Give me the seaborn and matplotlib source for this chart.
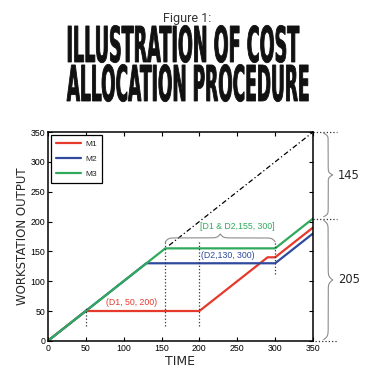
import numpy as np
import pandas as pd
import seaborn as sns
import matplotlib.pyplot as plt
from matplotlib.patheffects import AbstractPathEffect
from matplotlib.transforms import Affine2D

# output of each workstation over time
time_m1 = [0, 50, 200, 290, 300, 350]
out_m1 = [0, 50, 50, 140, 140, 190]
time_m2 = [0, 130, 300, 350]
out_m2 = [0, 130, 130, 180]
time_m3 = [0, 155, 300, 350]
out_m3 = [0, 155, 155, 205]
machines = ["M1", "M2", "M3"]
colors = ["#e5392b", "#2f4a9c", "#30a95c"]

# ideal (no disruption) output line
ideal_time = [160, 350]
ideal_out = [160, 350]

# disruption markers: time, bottom, top of dotted line
event_time = [50, 155, 200, 300]
event_lo = [25, 25, 25, 112]
event_hi = [57, 168, 168, 166]

notes = ["(D1, 50, 200)", "(D2,130, 300)", "[D1 & D2,155, 300]"]
total_out = 350
done_out = 205
lost_out = total_out - done_out

df = pd.concat([
    pd.DataFrame({"time": time_m1, "output": out_m1, "machine": "M1"}),
    pd.DataFrame({"time": time_m2, "output": out_m2, "machine": "M2"}),
    pd.DataFrame({"time": time_m3, "output": out_m3, "machine": "M3"}),
])


class Stretch(AbstractPathEffect):
    """stretch text vertically around baseline cy (pixels) and fatten strokes"""
    def __init__(self, sy, cy, lw=0.0):
        super().__init__()
        self.sy, self.cy, self.lw = sy, cy, lw

    def draw_path(self, renderer, gc, tpath, affine, rgbFace=None):
        tr = affine + Affine2D().translate(0, -self.cy).scale(1, self.sy).translate(0, self.cy)
        gc0 = renderer.new_gc()
        gc0.copy_properties(gc)
        if self.lw > 0:
            gc0.set_linewidth(self.lw)
            gc0.set_foreground(rgbFace)
            gc0.set_joinstyle("miter")
        renderer.draw_path(gc0, tpath, tr, rgbFace)
        gc0.restore()


def brace(ax, a, b, base, depth, vertical=False, **kw):
    s = np.linspace(0, 0.5, 151)
    half = 1 / (1 + np.exp(-70 * s)) + 1 / (1 + np.exp(-70 * (s - 0.5))) - 0.5
    prof = np.concatenate([half, half[-2::-1]])
    along = np.linspace(a, b, prof.size)
    off = base + depth * prof
    if vertical:
        ax.plot(off, along, clip_on=False, **kw)
    else:
        ax.plot(along, off, clip_on=False, **kw)


sns.set_style("ticks")
plt.rcParams["font.family"] = ["Liberation Sans", "DejaVu Sans"]

fig = plt.figure(figsize=(3.74, 3.86), dpi=100)
ax = fig.add_axes([0.128, 0.117, 0.709, 0.541])

sns.lineplot(data=df, x="time", y="output", hue="machine", palette=colors,
             estimator=None, sort=False, linewidth=1.6, ax=ax)

ax.plot(ideal_time, ideal_out, color="black", linestyle=(0, (4, 2, 1, 2)), linewidth=0.9)
for t, lo, hi in zip(event_time, event_lo, event_hi):
    ax.plot([t, t], [lo, hi], color="#333333", linestyle=":", linewidth=0.9)

ax.text(111, 64, notes[0], color=colors[0], fontsize=6.3, ha="center", va="center")
ax.text(237, 143, notes[1], color=colors[1], fontsize=6.3, ha="center", va="center")
ax.text(250, 192, notes[2], color=colors[2], fontsize=6.3, ha="center", va="center")

gray = "#8c8c8c"
brace(ax, 155, 300, 166, 13, color=gray, linewidth=0.8)

# right-hand dotted guides and braces
for yv, x0 in [(total_out, 350), (done_out, 350), (0, 353)]:
    ax.plot([x0, 382], [yv, yv], color="#333333", linestyle=":", linewidth=0.9, clip_on=False)
brace(ax, done_out + 3, total_out - 2, 364, 12, vertical=True, color=gray, linewidth=0.8)
brace(ax, 2, done_out - 3, 364, 12, vertical=True, color=gray, linewidth=0.8)
ax.text(383, (total_out + done_out) / 2, str(lost_out), fontsize=8.3, va="center",
        family="Liberation Sans Narrow")
ax.text(383, done_out / 2, str(done_out), fontsize=8.3, va="center",
        family="Liberation Sans Narrow")

ax.set_xlim(0, 350)
ax.set_ylim(0, 350)
ax.set_xticks(range(0, 351, 50))
ax.set_yticks(range(0, 351, 50))
ax.tick_params(direction="in", length=3, width=0.8, labelsize=6.3, pad=2,
               top=True, right=True, colors="black")
for sp in ax.spines.values():
    sp.set_linewidth(1.1)
    sp.set_color("black")
ax.set_xlabel("TIME", fontsize=9, family="Liberation Sans Narrow", labelpad=2)
ax.set_ylabel("WORKSTATION OUTPUT", fontsize=8.5, family="Liberation Sans Narrow", labelpad=1)

leg = ax.legend(loc="upper left", fontsize=6, frameon=True, fancybox=False,
                edgecolor="black", handlelength=3.0, labelspacing=0.85,
                borderaxespad=0.35, borderpad=0.6, handletextpad=0.5)
leg.get_frame().set_linewidth(0.9)
leg.get_frame().set_alpha(1)

# titles
fig.text(0.5, 0.943, "Figure 1:", ha="center", va="baseline", fontsize=9,
         family="Roboto", color="#333333")
W, H = 374, 386
cap_px = 34
titles = [("ILLUSTRATION OF COST", 66, 299, 62),
          ("ALLOCATION PROCEDURE", 66, 309, 101)]
r = fig.canvas.get_renderer()
for s, x0, x1, ybase in titles:
    t = fig.text((x0 + x1) / 2 / W, 1 - ybase / H, s, ha="center", va="baseline",
                 fontsize=20, family="Liberation Sans Narrow", fontweight="bold",
                 color="#111111")
    w = t.get_window_extent(r).width
    fs = 20 * (x1 - x0 - 1) / w
    t.set_fontsize(fs)
    sy = cap_px / (0.688 * fs * 100 / 72)
    t.set_path_effects([Stretch(sy, H - ybase, lw=0.6)])

fig.savefig("out.png", dpi=100)
